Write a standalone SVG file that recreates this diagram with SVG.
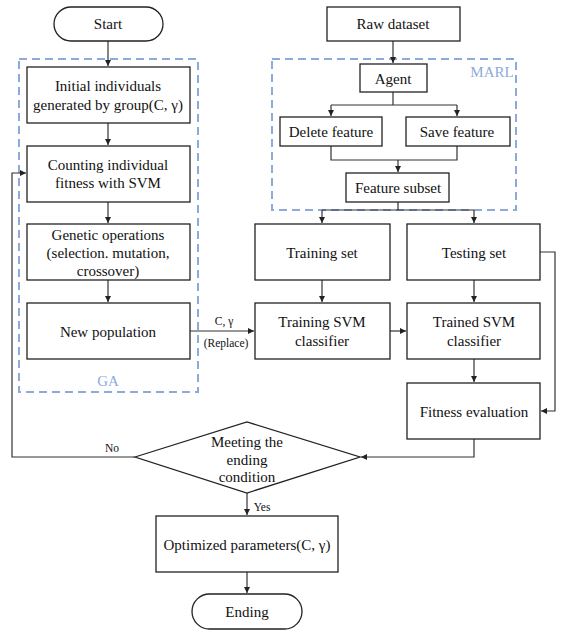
<svg xmlns="http://www.w3.org/2000/svg" width="566" height="635" viewBox="0 0 566 635">
<style>
text{font-family:'Liberation Serif','DejaVu Serif',serif;font-size:15px;fill:#111;text-anchor:middle;dominant-baseline:central}
.box{fill:#fff;stroke:#222;stroke-width:1.3}
.grp{fill:none;stroke:#8eaadb;stroke-width:2;stroke-dasharray:8 5}
.glabel{fill:#8eaadb}
.sm{font-size:11.5px}
.c{fill:none;stroke:#333;stroke-width:1.2}
</style>
<defs>
<marker id="ah" markerUnits="userSpaceOnUse" markerWidth="7" markerHeight="6" refX="6" refY="3" orient="auto">
<path d="M0,0 L6,3 L0,6 z" fill="#222"/>
</marker>
</defs>
<g font-family="Liberation Serif, serif">
<g id="ga-group"><rect class="grp" x="19" y="59" width="179" height="333"/><text class="glabel" x="108" y="381">GA</text></g>
<g id="marl-group"><rect class="grp" x="272" y="59" width="244" height="151"/><text class="glabel" x="492" y="72">MARL</text></g>
<g id="connectors">
<path class="c" d="M108,41 V66" marker-end="url(#ah)"/>
<path class="c" d="M108,123 V145" marker-end="url(#ah)"/>
<path class="c" d="M108,202 V223" marker-end="url(#ah)"/>
<path class="c" d="M108,280 V302" marker-end="url(#ah)"/>
<path class="c" d="M190,331 H254" marker-end="url(#ah)"/>
<path class="c" d="M135,457 H12 V173 H26" marker-end="url(#ah)"/>
<path class="c" d="M393,41 V63" marker-end="url(#ah)"/>
<path class="c" d="M393,92 V105 M331,105 H457"/>
<path class="c" d="M331,105 V116" marker-end="url(#ah)"/>
<path class="c" d="M457,105 V116" marker-end="url(#ah)"/>
<path class="c" d="M331,146 V160 H457 V146"/>
<path class="c" d="M398,160 V172" marker-end="url(#ah)"/>
<path class="c" d="M398,202 V210 M322,210 H474"/>
<path class="c" d="M322,210 V223" marker-end="url(#ah)"/>
<path class="c" d="M474,210 V223" marker-end="url(#ah)"/>
<path class="c" d="M322,280 V302" marker-end="url(#ah)"/>
<path class="c" d="M474,280 V302" marker-end="url(#ah)"/>
<path class="c" d="M390,331 H406" marker-end="url(#ah)"/>
<path class="c" d="M474,359 V382" marker-end="url(#ah)"/>
<path class="c" d="M540,252 H555 V411 H541" marker-end="url(#ah)"/>
<path class="c" d="M474,439 V457 H361" marker-end="url(#ah)"/>
<path class="c" d="M247,493 V515" marker-end="url(#ah)"/>
<path class="c" d="M247,572 V593" marker-end="url(#ah)"/>
<text class="sm" x="224" y="321">C, γ</text>
<text class="sm" x="226" y="343">(Replace)</text>
<text class="sm" x="112" y="448">No</text>
<text class="sm" x="262" y="507">Yes</text>
</g>
<g id="start"><rect class="box" x="54" y="7" width="109" height="34" rx="17"/><text x="108" y="24">Start</text></g>
<g id="initial"><rect class="box" x="27" y="67" width="163" height="56"/><text x="108" y="86">Initial individuals</text><text x="108" y="105">generated by group(C, γ)</text></g>
<g id="counting"><rect class="box" x="27" y="146" width="163" height="56"/><text x="108" y="165">Counting individual</text><text x="108" y="183">fitness with SVM</text></g>
<g id="genetic"><rect class="box" x="27" y="224" width="163" height="56"/><text x="108" y="235">Genetic operations</text><text x="108" y="253">(selection. mutation,</text><text x="108" y="271">crossover)</text></g>
<g id="newpop"><rect class="box" x="27" y="303" width="163" height="56"/><text x="108" y="332">New population</text></g>
<g id="raw"><rect class="box" x="327" y="7" width="133" height="34"/><text x="393" y="24">Raw dataset</text></g>
<g id="agent"><rect class="box" x="360" y="64" width="67" height="28"/><text x="393" y="79">Agent</text></g>
<g id="delete"><rect class="box" x="280" y="117" width="102" height="29"/><text x="331" y="132">Delete feature</text></g>
<g id="save"><rect class="box" x="406" y="117" width="104" height="29"/><text x="457" y="132">Save feature</text></g>
<g id="subset"><rect class="box" x="346" y="173" width="103" height="29"/><text x="398" y="188">Feature subset</text></g>
<g id="training-set"><rect class="box" x="255" y="224" width="135" height="56"/><text x="322" y="253">Training set</text></g>
<g id="testing-set"><rect class="box" x="407" y="224" width="133" height="56"/><text x="474" y="253">Testing set</text></g>
<g id="training-svm"><rect class="box" x="255" y="303" width="135" height="56"/><text x="322" y="322">Training SVM</text><text x="322" y="341">classifier</text></g>
<g id="trained-svm"><rect class="box" x="407" y="303" width="133" height="56"/><text x="474" y="322">Trained SVM</text><text x="474" y="341">classifier</text></g>
<g id="fitness"><rect class="box" x="407" y="383" width="133" height="56"/><text x="474" y="412">Fitness evaluation</text></g>
<g id="decision"><polygon class="box" points="135,457 247,422 360,457 247,493"/><text x="247" y="442">Meeting the</text><text x="247" y="460">ending</text><text x="247" y="477">condition</text></g>
<g id="optimized"><rect class="box" x="156" y="516" width="182" height="56"/><text x="247" y="545">Optimized parameters(C, γ)</text></g>
<g id="ending"><rect class="box" x="192" y="594" width="110" height="35" rx="17.5"/><text x="247" y="612">Ending</text></g>
</g>
</svg>
